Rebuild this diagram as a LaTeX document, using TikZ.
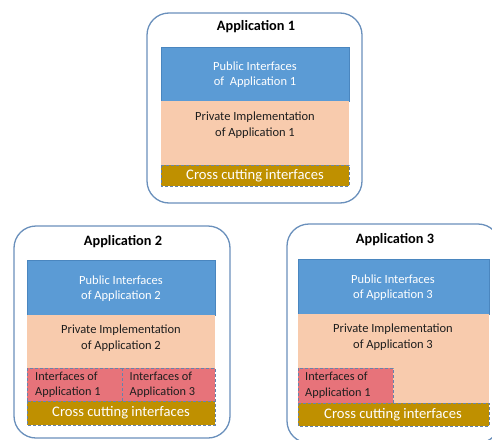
\documentclass[tikz,border=0pt]{standalone}
\usepackage{fontspec}
\setmainfont{Carlito}
\definecolor{pubblue}{HTML}{5B9BD5}
\definecolor{pubedge}{HTML}{4A86BF}
\definecolor{privpeach}{HTML}{F8CBAD}
\definecolor{ifred}{HTML}{E7737A}
\definecolor{crossgold}{HTML}{BF9000}
\definecolor{frameblue}{HTML}{6A90BC}
\definecolor{dashblue}{HTML}{6584AC}
\definecolor{inktext}{HTML}{1E1E1E}
\tikzset{
  appframe/.style={draw=frameblue, line width=1.3pt, rounded corners=22pt, fill=white},
  pubbox/.style={fill=pubblue, draw=pubedge, line width=0.6pt},
  privbox/.style={fill=privpeach},
  ifbox/.style={fill=ifred, draw=dashblue, line width=0.9pt, dash pattern=on 3pt off 2pt},
  crossbox/.style={fill=crossgold, draw=dashblue, line width=0.9pt, dash pattern=on 3pt off 2pt},
  apptitle/.style={font=\fontsize{14.3}{16}\selectfont\bfseries, text=black},
  pubtext/.style={font=\fontsize{12.5}{15}\selectfont, text=white, align=center},
  privtext/.style={font=\fontsize{12.5}{15.5}\selectfont, text=inktext, align=center},
  iftext/.style={font=\fontsize{12.3}{15.5}\selectfont, text=inktext, align=left, anchor=west, inner sep=0pt},
  crosstext/.style={font=\fontsize{14.6}{16}\selectfont, text=white},
}
\begin{document}
\begin{tikzpicture}[x=1pt, y=-1pt]
\useasboundingbox (0,0) rectangle (492,439);
\clip (0,0) rectangle (492,439);
\fill[white] (0,0) rectangle (492,439);

% ---- Application 1 ----
\draw[appframe] (147,13) rectangle (362,203);
\node[apptitle] (t1) at (256,27) {Application 1};
\draw[pubbox] (161,47) rectangle (349,101);
\node[pubtext] (pub1) at (255,75) {Public Interfaces\\of~ Application 1};
\fill[privbox] (161,101) rectangle (349,165);
\node[privtext] (priv1) at (255,125) {Private Implementation\\of Application 1};
\draw[crossbox] (161,165) rectangle (349,186);
\node[crosstext] (cross1) at (255,175.5) {Cross cutting interfaces};

% ---- Application 2 ----
\draw[appframe] (14,226) rectangle (230,438);
\node[apptitle] (t2) at (123,242) {Application 2};
\draw[pubbox] (27,260) rectangle (215,315);
\node[pubtext] (pub2) at (121,289) {Public Interfaces\\of Application 2};
\fill[privbox] (27,315) rectangle (215,368);
\node[privtext] (priv2) at (121,338) {Private Implementation\\of Application 2};
\draw[ifbox] (27,368) rectangle (122,401);
\node[iftext] (if21) at (35,385) {Interfaces of\\Application 1};
\draw[ifbox] (122,368) rectangle (215,401);
\node[iftext] (if23) at (129.5,385) {Interfaces of\\Application 3};
\draw[crossbox] (27,401) rectangle (215,425);
\node[crosstext] (cross2) at (121,413) {Cross cutting interfaces};

% ---- Application 3 ----
\draw[appframe] (287,224) rectangle (500,443);
\node[apptitle] (t3) at (395,240) {Application 3};
\draw[pubbox] (298,259) rectangle (489,314);
\node[pubtext] (pub3) at (393,288) {Public Interfaces\\of Application 3};
\fill[privbox] (298,314) rectangle (489,403);
\node[privtext] (priv3) at (393,337) {Private Implementation\\of Application 3};
\draw[ifbox] (298,368) rectangle (393,403);
\node[iftext] (if31) at (305,385.5) {Interfaces of\\Application 1};
\draw[crossbox] (298,403) rectangle (489,426);
\node[crosstext] (cross3) at (393,414.5) {Cross cutting interfaces};
\end{tikzpicture}
\end{document}
